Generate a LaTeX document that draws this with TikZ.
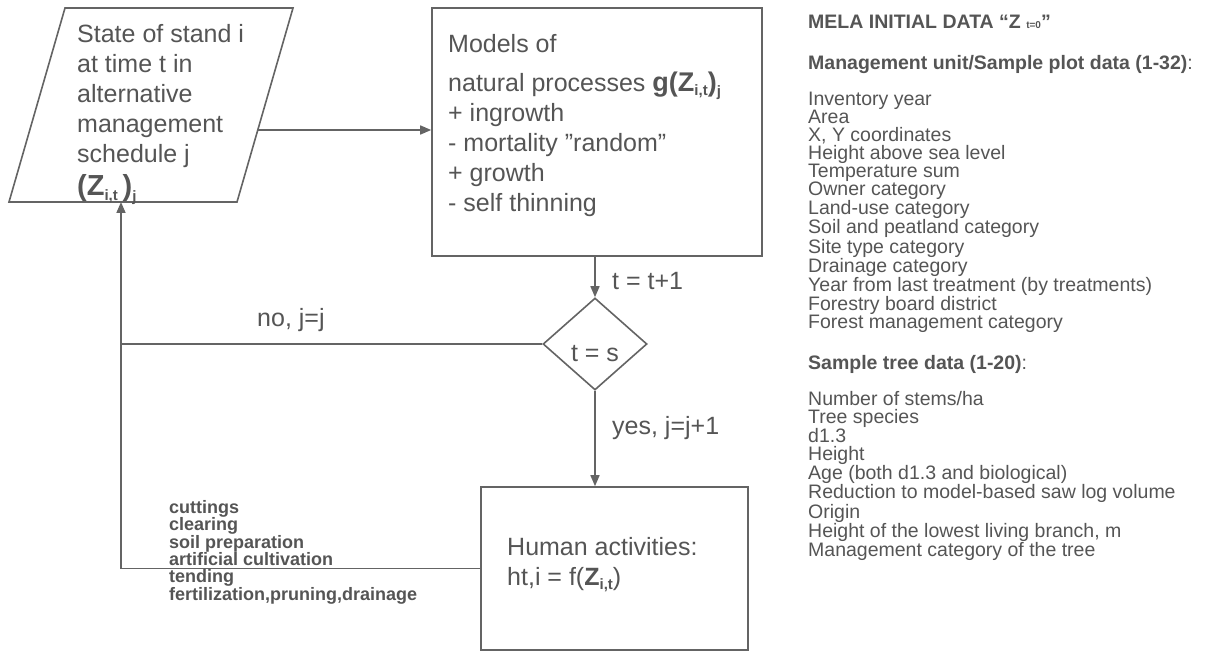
\documentclass[tikz,border=0pt]{standalone}
\usepackage{fontspec}
\setmainfont{Liberation Sans}
\usetikzlibrary{arrows.meta,shapes.geometric}
\definecolor{txt}{RGB}{85,85,85}
\definecolor{ln}{RGB}{100,100,100}
\newcommand{\lowsub}[2]{\raisebox{-#1}{\fontsize{15}{15}\selectfont #2}}
\begin{document}
\begin{tikzpicture}[x=1pt,y=-1pt,
  every node/.style={text=txt, inner sep=0pt},
  line/.style={draw=ln, line width=1.6pt},
  arr/.style={line, -{Triangle[length=11pt,width=9pt]}},
  box/.style={draw=ln, line width=1.6pt, rectangle},
  big/.style={font=\fontsize{25}{30}\selectfont},
  bigblock/.style={big, align=left, anchor=north west},
  lst/.style={font=\fontsize{19.5}{18}\selectfont, align=left, anchor=north west},
  hd/.style={font=\fontsize{19.5}{20}\selectfont\bfseries, anchor=base west},
  act/.style={font=\fontsize{18}{17.4}\selectfont\bfseries, align=left, anchor=north west},
]
\useasboundingbox (0,0) rectangle (1211,652);
\fill[white] (0,0) rectangle (1211,652);

% state parallelogram
\coordinate (p1) at (65,8);
\coordinate (p2) at (293,8);
\coordinate (p3) at (237,202);
\coordinate (p4) at (9,202);
\draw[line] (p1) -- (p2) -- (p3) -- (p4) -- cycle;
\coordinate (stateR) at (258,130);
\coordinate (stateB) at (121,202);
\node[bigblock] (statetxt) at (77,24) {State of stand i\\at time t in\\alternative\\management\\schedule j\\[3pt]{\fontsize{29}{30}\selectfont\bfseries (Z\lowsub{5pt}{i,t}\,)\lowsub{6pt}{j}}};

% models box
\node[box, minimum width=330pt, minimum height=248pt] (models) at (597,132) {};
\node[bigblock] (modtxt) at (448,34) {Models of\\[9pt]natural processes {\fontsize{27}{30}\selectfont\bfseries g(Z\lowsub{4pt}{i,t})\lowsub{5pt}{j}}\\+ ingrowth\\- mortality ”random”\\+ growth\\- self thinning};

% decision diamond
\node[draw=ln, line width=1.6pt, diamond, minimum width=104pt, minimum height=92pt] (dia) at (595,344) {};
\node[big] (diatxt) at (595,354) {t = s};

% human activities box
\node[box, minimum width=267pt, minimum height=163pt] (human) at (614.5,568.5) {};
\node[bigblock] (humtxt) at (507,537) {Human activities:\\ht,i = f({\bfseries Z\lowsub{4pt}{i,t}})};

% connectors
\draw[arr] (stateR) -- (models.west |- stateR);
\draw[arr] (models.south -| dia.north) -- (dia.north);
\draw[line] (dia.west) -- (dia.west -| stateB);
\draw[arr] (human.west) -| (stateB);
\draw[arr] (dia.south) -- (dia.south |- human.north);

% connector labels
\node[big, anchor=west] (lt1) at (612,281) {t = t+1};
\node[big, anchor=west] (lno) at (257,320) {no, j=j};
\node[big, anchor=west] (lyes) at (612,428) {yes, j=j+1};

% activities list
\node[act] (acts) at (169,500) {cuttings\\clearing\\soil preparation\\artificial cultivation\\tending\\fertilization,pruning,drainage};

% right-hand data description
\node[hd] (h1) at (808,29) {MELA INITIAL DATA “Z {\fontsize{10}{10}\selectfont t=0}”};
\node[hd] (h2) at (808,70) {Management unit/Sample plot data (1-32){\mdseries :}};
\node[lst] (l1) at (808,92) {Inventory year\\Area\\X, Y coordinates\\Height above sea level\\Temperature sum\\Owner category\\Land-use category\\Soil and peatland  category\\Site type category\\Drainage category\\Year from last treatment (by treatments)\\Forestry board district\\Forest management  category};
\node[hd] (h3) at (808,370) {Sample tree data (1-20){\mdseries :}};
\node[lst] (l2) at (808,391) {Number of stems/ha\\Tree species\\d1.3\\Height\\Age (both d1.3 and biological)\\Reduction to model-based saw log volume\\Origin\\Height of the lowest living branch, m\\Management category of the tree};
\end{tikzpicture}
\end{document}
